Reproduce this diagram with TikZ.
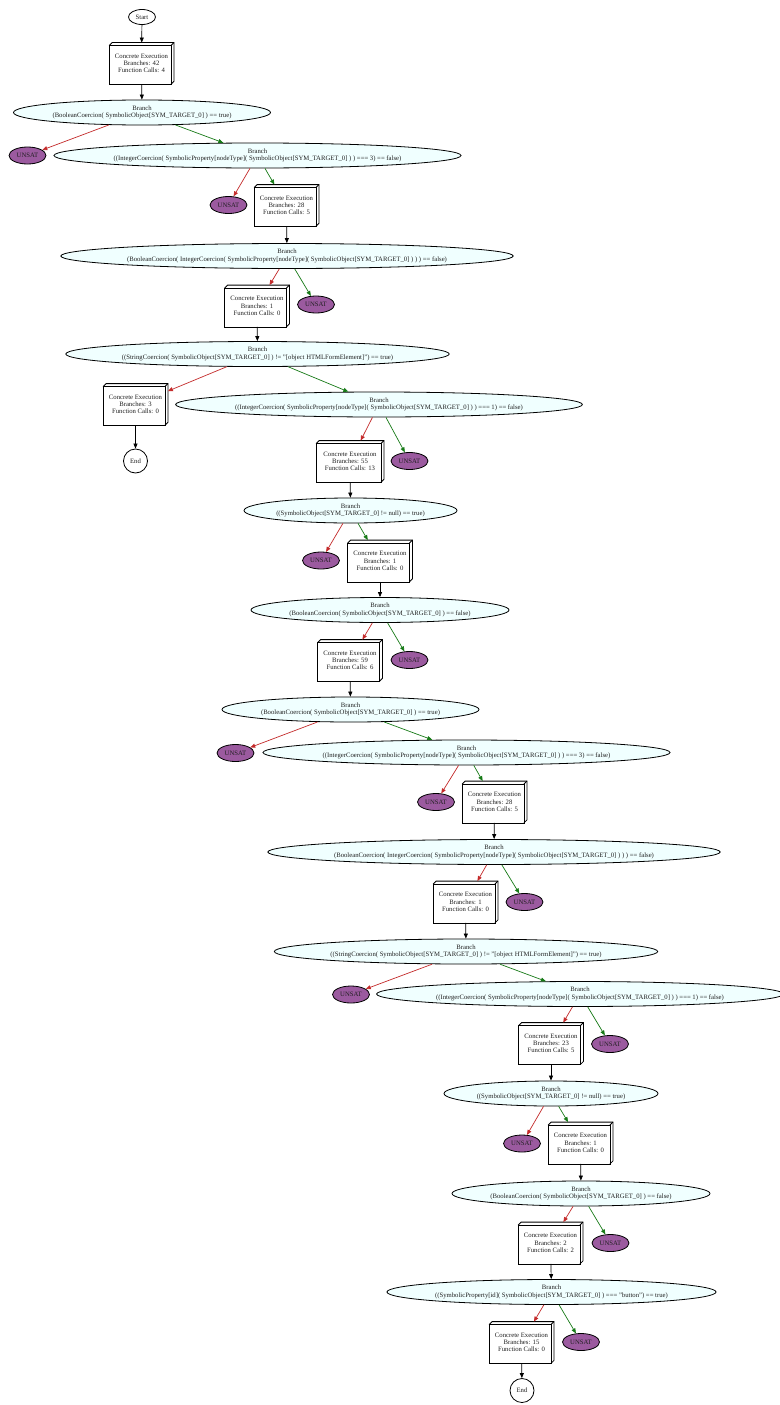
\documentclass[tikz,border=0pt]{standalone}
\usepackage{fontspec}
\setmainfont{Liberation Serif}
\usetikzlibrary{shapes.geometric,arrows.meta}

\definecolor{branchfill}{HTML}{F0FFFF}
\definecolor{unsatfill}{HTML}{9B5A9F}
\definecolor{falseedge}{HTML}{C42B2B}
\definecolor{trueedge}{HTML}{177A17}
\definecolor{ink}{HTML}{202020}

\tikzset{
  base/.style={font=\fontsize{6.7}{7.3}\selectfont, text=ink, line width=0.8pt},
  branch/.style={base, ellipse, draw=black, fill=branchfill, align=center,
    inner sep=0pt, minimum height=25pt},
  unsat/.style={base, ellipse, draw=black, fill=unsatfill, inner sep=0pt,
    minimum width=37pt, minimum height=17pt},
  terminal/.style={base, ellipse, draw=black, fill=white, inner sep=0pt},
  cebox/.style={base, rectangle, inner sep=0pt, minimum width=64pt,
    minimum height=41pt, align=center},
  flow/.style={-{Triangle[length=5pt,width=4pt]}, line width=0.7pt, black},
  falsearc/.style={flow, falseedge},
  truearc/.style={flow, trueedge},
  boxline/.style={line width=0.8pt, black, line join=miter}
}

% three-dimensional box outline drawn inside a cebox node
\newcommand\boxthree[1]{%
  \draw[boxline] (#1.south west) -- ([yshift=-3pt]#1.north west)
    -- ([shift={(-3pt,-3pt)}]#1.north east) -- ([xshift=-3pt]#1.south east) -- cycle;
  \draw[boxline] ([yshift=-3pt]#1.north west) -- ([xshift=3pt]#1.north west)
    -- (#1.north east) -- ([yshift=3pt]#1.south east) -- ([xshift=-3pt]#1.south east);
  \draw[boxline] ([shift={(-3pt,-3pt)}]#1.north east) -- (#1.north east);
}

\newcommand\cetext[2]{Concrete Execution\\Branches: #1\\Function Calls: #2}

\begin{document}
\begin{tikzpicture}[x=1pt,y=-1pt]
\useasboundingbox[fill=white] (0,0) rectangle (779,1405);

% terminals
\node[terminal, minimum width=27pt, minimum height=15pt] (start) at (142,17) {Start};
\node[terminal, minimum width=24pt, minimum height=24pt] (end1) at (135.5,461) {End};
\node[terminal, minimum width=24pt, minimum height=24pt] (end2) at (522,1390.5) {End};

% concrete execution boxes
\node[cebox] (c1) at (141.5,63.5) {\cetext{42}{4}};
\node[cebox] (c2) at (286.5,205.5) {\cetext{28}{5}};
\node[cebox] (c3) at (257,306) {\cetext{1}{0}};
\node[cebox] (c4) at (135.5,404.5) {\cetext{3}{0}};
\node[cebox, minimum width=67pt] (c5) at (350,461.5) {\cetext{55}{13}};
\node[cebox] (c6) at (380,561) {\cetext{1}{0}};
\node[cebox] (c7) at (350,660.5) {\cetext{59}{6}};
\node[cebox] (c9) at (494.5,802) {\cetext{28}{5}};
\node[cebox] (c10) at (465.5,902) {\cetext{1}{0}};
\node[cebox] (c12) at (551,1043.5) {\cetext{23}{5}};
\node[cebox] (c13) at (580.5,1143) {\cetext{1}{0}};
\node[cebox] (c14) at (550.5,1243) {\cetext{2}{2}};
\node[cebox] (c15) at (521.5,1342.5) {\cetext{15}{0}};
\foreach \n in {c1,c2,c3,c4,c5,c6,c7,c9,c10,c12,c13,c14,c15}{\boxthree{\n}}

% branch conditions
\node[branch, minimum width=257pt] (b1) at (142,112.5)
  {Branch\\(BooleanCoercion( SymbolicObject[SYM\_TARGET\_0] ) == true)};
\node[branch, minimum width=407pt] (b2) at (257.5,155.5)
  {Branch\\((IntegerCoercion( SymbolicProperty[nodeType]( SymbolicObject[SYM\_TARGET\_0] ) ) === 3) == false)};
\node[branch, minimum width=452pt] (b3) at (287,256)
  {Branch\\(BooleanCoercion( IntegerCoercion( SymbolicProperty[nodeType]( SymbolicObject[SYM\_TARGET\_0] ) ) ) == false)};
\node[branch, minimum width=381pt] (b4) at (257.5,354)
  {Branch\\((StringCoercion( SymbolicObject[SYM\_TARGET\_0] ) != "[object HTMLFormElement]") == true)};
\node[branch, minimum width=404pt] (b5) at (379,404.5)
  {Branch\\((IntegerCoercion( SymbolicProperty[nodeType]( SymbolicObject[SYM\_TARGET\_0] ) ) === 1) == false)};
\node[branch, minimum width=213pt] (b6) at (350.5,510.5)
  {Branch\\((SymbolicObject[SYM\_TARGET\_0] != null) == true)};
\node[branch, minimum width=258pt] (b7) at (380,610)
  {Branch\\(BooleanCoercion( SymbolicObject[SYM\_TARGET\_0] ) == false)};
\node[branch, minimum width=257pt] (b8) at (350.5,709.5)
  {Branch\\(BooleanCoercion( SymbolicObject[SYM\_TARGET\_0] ) == true)};
\node[branch, minimum width=407pt] (b9) at (466.5,752.5)
  {Branch\\((IntegerCoercion( SymbolicProperty[nodeType]( SymbolicObject[SYM\_TARGET\_0] ) ) === 3) == false)};
\node[branch, minimum width=452pt] (b10) at (494,852)
  {Branch\\(BooleanCoercion( IntegerCoercion( SymbolicProperty[nodeType]( SymbolicObject[SYM\_TARGET\_0] ) ) ) == false)};
\node[branch, minimum width=382pt] (b11) at (466,951.5)
  {Branch\\((StringCoercion( SymbolicObject[SYM\_TARGET\_0] ) != "[object HTMLFormElement]") == true)};
\node[branch, minimum width=404pt] (b12) at (580,994)
  {Branch\\((IntegerCoercion( SymbolicProperty[nodeType]( SymbolicObject[SYM\_TARGET\_0] ) ) === 1) == false)};
\node[branch, minimum width=214pt] (b13) at (551,1093.5)
  {Branch\\((SymbolicObject[SYM\_TARGET\_0] != null) == true)};
\node[branch, minimum width=258pt] (b14) at (581,1193.5)
  {Branch\\(BooleanCoercion( SymbolicObject[SYM\_TARGET\_0] ) == false)};
\node[branch, minimum width=329pt] (b15) at (551.5,1292)
  {Branch\\((SymbolicProperty[id]( SymbolicObject[SYM\_TARGET\_0] ) === "button") == true)};

% unsatisfiable leaves
\node[unsat] (u1) at (27.5,155.5) {UNSAT};
\node[unsat] (u2) at (228.5,205) {UNSAT};
\node[unsat] (u3) at (316,304.5) {UNSAT};
\node[unsat] (u5) at (409.5,461) {UNSAT};
\node[unsat] (u6) at (321,560.5) {UNSAT};
\node[unsat] (u7) at (409.5,660) {UNSAT};
\node[unsat] (u8) at (235.5,753) {UNSAT};
\node[unsat] (u9) at (436,802) {UNSAT};
\node[unsat] (u10) at (524.5,902) {UNSAT};
\node[unsat] (u11) at (351,994.5) {UNSAT};
\node[unsat] (u12) at (610,1044) {UNSAT};
\node[unsat] (u13) at (522,1143.5) {UNSAT};
\node[unsat] (u14) at (610.5,1243) {UNSAT};
\node[unsat] (u15) at (581,1342) {UNSAT};

% sequential flow
\draw[flow] (start) -- (c1);
\draw[flow] (c1) -- (b1);
\draw[flow] (c2) -- (b3);
\draw[flow] (c3) -- (b4);
\draw[flow] (c4) -- (end1);
\draw[flow] (c5) -- (b6);
\draw[flow] (c6) -- (b7);
\draw[flow] (c7) -- (b8);
\draw[flow] (c9) -- (b10);
\draw[flow] (c10) -- (b11);
\draw[flow] (c12) -- (b13);
\draw[flow] (c13) -- (b14);
\draw[flow] (c14) -- (b15);
\draw[flow] (c15) -- (end2);

% branch outcomes
\draw[falsearc] (b1) -- (u1);   \draw[truearc] (b1) -- (b2);
\draw[falsearc] (b2) -- (u2);   \draw[truearc] (b2) -- (c2);
\draw[falsearc] (b3) -- (c3);   \draw[truearc] (b3) -- (u3);
\draw[falsearc] (b4) -- (c4);   \draw[truearc] (b4) -- (b5);
\draw[falsearc] (b5) -- (c5);   \draw[truearc] (b5) -- (u5);
\draw[falsearc] (b6) -- (u6);   \draw[truearc] (b6) -- (c6);
\draw[falsearc] (b7) -- (c7);   \draw[truearc] (b7) -- (u7);
\draw[falsearc] (b8) -- (u8);   \draw[truearc] (b8) -- (b9);
\draw[falsearc] (b9) -- (u9);   \draw[truearc] (b9) -- (c9);
\draw[falsearc] (b10) -- (c10); \draw[truearc] (b10) -- (u10);
\draw[falsearc] (b11) -- (u11); \draw[truearc] (b11) -- (b12);
\draw[falsearc] (b12) -- (c12); \draw[truearc] (b12) -- (u12);
\draw[falsearc] (b13) -- (u13); \draw[truearc] (b13) -- (c13);
\draw[falsearc] (b14) -- (c14); \draw[truearc] (b14) -- (u14);
\draw[falsearc] (b15) -- (c15); \draw[truearc] (b15) -- (u15);
\end{tikzpicture}
\end{document}
